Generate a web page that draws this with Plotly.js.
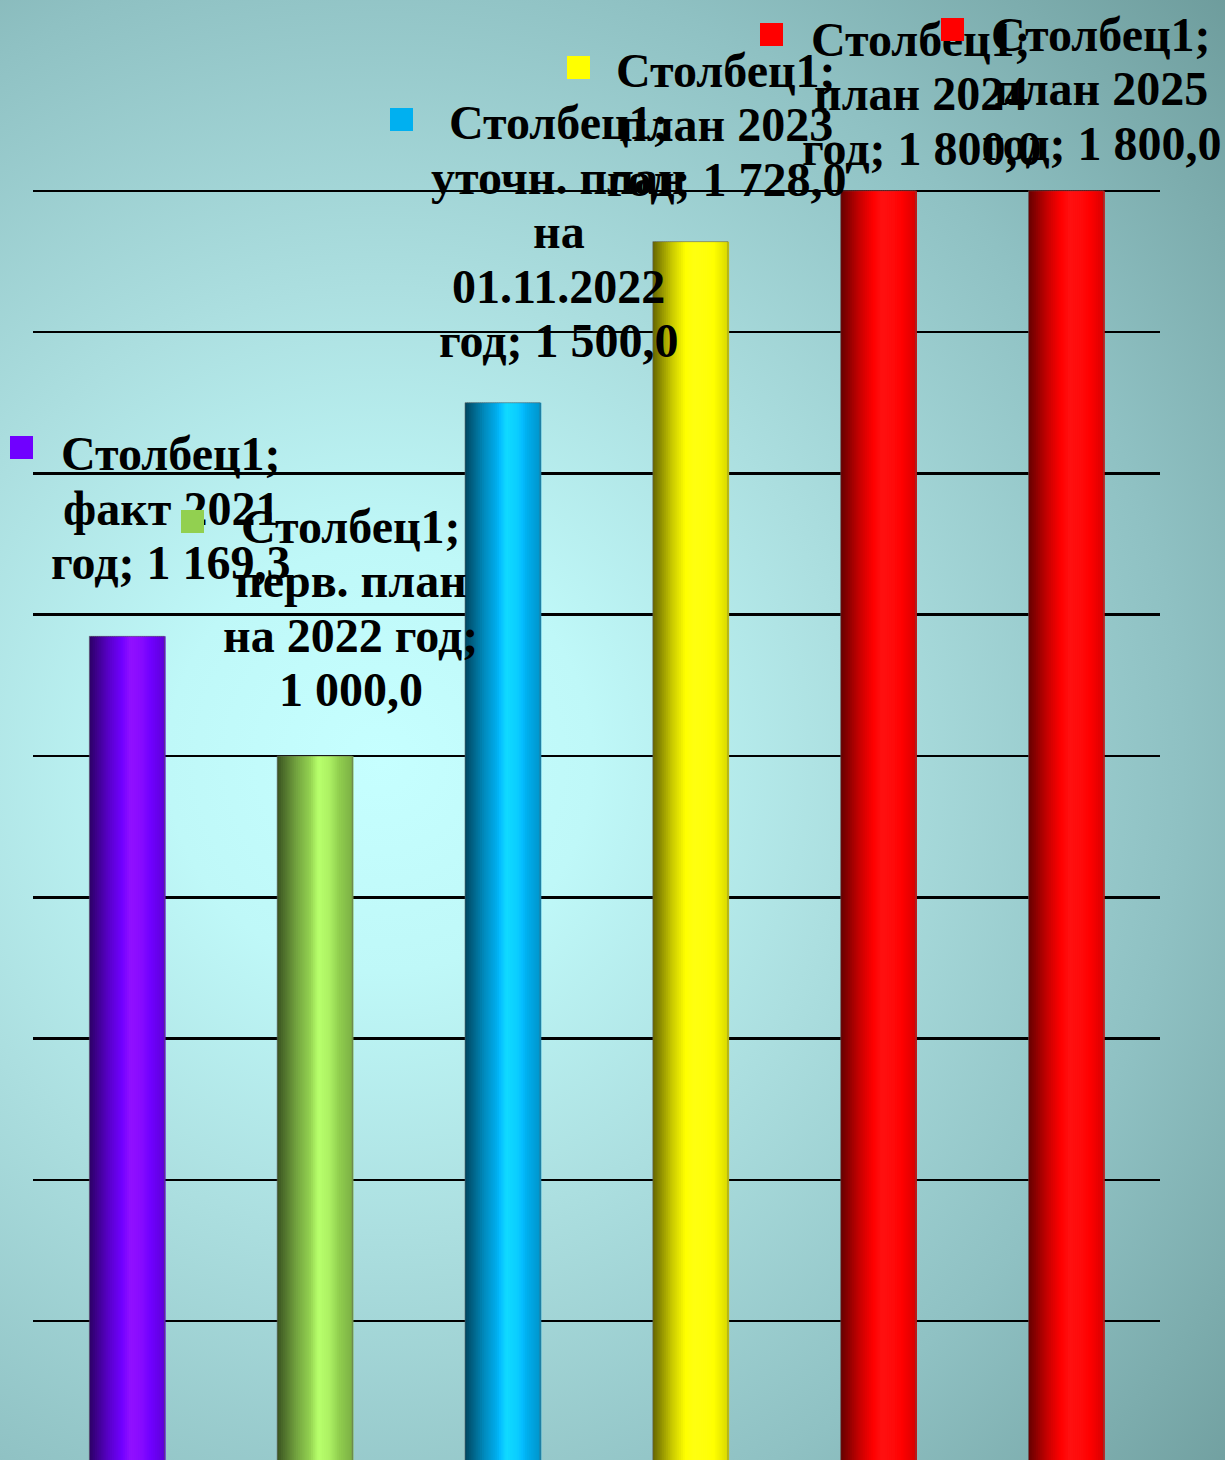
<!DOCTYPE html>
<html>
<head>
<meta charset="utf-8">
<script src="https://cdn.plot.ly/plotly-3.0.1.min.js"></script>
<style>
  html, body { margin: 0; padding: 0; }
  #chart {
    width: 1225px; height: 1460px;
    background: radial-gradient(circle 1180px at 380px 760px, #c6ffff 0%, #bff8f8 18%, #acdfe0 40%, #8fc1c3 68%, #6a9898 100%);
  }
</style>
</head>
<body>
<div id="chart"></div>
<script>
// ---- data ----
const seriesName = "Столбец1";
const categories = ["факт 2021 год", "перв. план на 2022 год", "уточн. план на 01.11.2022 год", "план 2023 год", "план 2024 год", "план 2025 год"];
const values = [1169.3, 1000.0, 1500.0, 1728.0, 1800.0, 1800.0];
const labelCategoryText = ["факт 2021<br>год", "перв. план<br>на 2022 год", "уточн. план<br>на<br>01.11.2022<br>год", "план 2023<br>год", "план 2024<br>год", "план 2025<br>год"];
const labelValueSep = ["; ", ";<br>", "; ", "; ", "; ", "; "];
const gridTicks = [200, 400, 600, 800, 1000, 1200, 1400, 1600, 1800];

// ---- style ----
const barColors = ["#7000ff", "#92d050", "#00b0f0", "#ffff00", "#ff0000", "#ff0000"];
const labelOffsets = [[44, 128], [36, 148], [56, 171], [36, 117], [43, 97], [35, 102]];
const keyOffsets = [[-105, 189], [-122, 234], [-101, 283], [-112, 174], [-107, 156], [-114, 161]];
const LABEL_FONT = 48;
const LINE_STEP = 54.5;
const BAR_W = 0.4;
const STRIPS = 40;
const shadePts = [[0, 0.40], [0.1, 0.55], [0.25, 0.78], [0.4, 0.96], [0.55, 1.15], [0.7, 1.10], [0.85, 0.97], [1, 0.85]];

function shadeFactor(t) {
  for (let i = 1; i < shadePts.length; i++) {
    if (t <= shadePts[i][0]) {
      const a = shadePts[i - 1], b = shadePts[i];
      return a[1] + (b[1] - a[1]) * (t - a[0]) / (b[0] - a[0]);
    }
  }
  return shadePts[shadePts.length - 1][1];
}
function shade(hex, f) {
  const n = parseInt(hex.slice(1), 16);
  const ch = [(n >> 16) & 255, (n >> 8) & 255, n & 255].map(c => {
    let v = c * f + (f > 1 ? (f - 1) * 110 : 0);
    return Math.max(0, Math.min(255, Math.round(v)));
  });
  return "rgb(" + ch.join(",") + ")";
}
function fmt(v) {
  const parts = v.toFixed(1).split(".");
  const intPart = parts[0].replace(/\B(?=(\d{3})+(?!\d))/g, " ");
  return intPart + "," + parts[1];
}

const xIdx = categories.map((_, i) => i);
const traces = [];
for (let k = 0; k < STRIPS; k++) {
  const t = (k + 0.5) / STRIPS;
  const f = shadeFactor(t);
  traces.push({
    type: "bar",
    x: xIdx,
    y: values,
    width: BAR_W / STRIPS * 1.6,
    offset: -BAR_W / 2 + k * BAR_W / STRIPS,
    marker: { color: barColors.map(c => shade(c, f)), line: { width: 0 } },
    hoverinfo: "skip",
    showlegend: false
  });
}
traces.push({
  type: "bar",
  x: xIdx,
  y: values,
  width: BAR_W,
  offset: -BAR_W / 2,
  marker: { color: "rgba(0,0,0,0)", line: { width: 1, color: "rgba(90,90,90,0.55)" } },
  hoverinfo: "skip",
  showlegend: false
});

const annotations = [];
categories.forEach((c, i) => {
  const full = seriesName + ";<br>" + labelCategoryText[i] + labelValueSep[i] + fmt(values[i]);
  const lines = full.split("<br>");
  const n = lines.length;
  lines.forEach((ln, j) => {
    annotations.push({
      x: xIdx[i], y: values[i], xref: "x", yref: "y",
      text: ln,
      showarrow: false, xanchor: "center", yanchor: "middle", align: "center",
      xshift: labelOffsets[i][0],
      yshift: labelOffsets[i][1] + ((n - 1) / 2 - j) * LINE_STEP,
      font: { family: "Liberation Serif, 'Times New Roman', serif", size: LABEL_FONT, color: "#000", weight: 700 }
    });
  });
  annotations.push({
    x: xIdx[i], y: values[i], xref: "x", yref: "y",
    text: "\u00a0", width: 23, height: 23, bgcolor: barColors[i], borderpad: 0, borderwidth: 0,
    showarrow: false, xanchor: "center", yanchor: "middle",
    xshift: keyOffsets[i][0], yshift: keyOffsets[i][1],
    font: { size: 10 }
  });
});

const layout = {
  width: 1225, height: 1460,
  margin: { l: 33, r: 65, t: 0, b: 0, pad: 0 },
  paper_bgcolor: "rgba(0,0,0,0)",
  plot_bgcolor: "rgba(0,0,0,0)",
  barmode: "overlay",
  showlegend: false,
  xaxis: { range: [-0.5, categories.length - 0.5], showgrid: false, zeroline: false, showticklabels: false, ticks: "", showline: false, fixedrange: true },
  yaxis: { range: [3.5, 2070], tickmode: "array", tickvals: gridTicks, showticklabels: false, ticks: "",
           showgrid: true, gridcolor: "#000", gridwidth: 2.5, zeroline: false, showline: false, fixedrange: true },
  annotations: annotations
};

Plotly.newPlot("chart", traces, layout, { staticPlot: true, displayModeBar: false });
</script>
</body>
</html>
